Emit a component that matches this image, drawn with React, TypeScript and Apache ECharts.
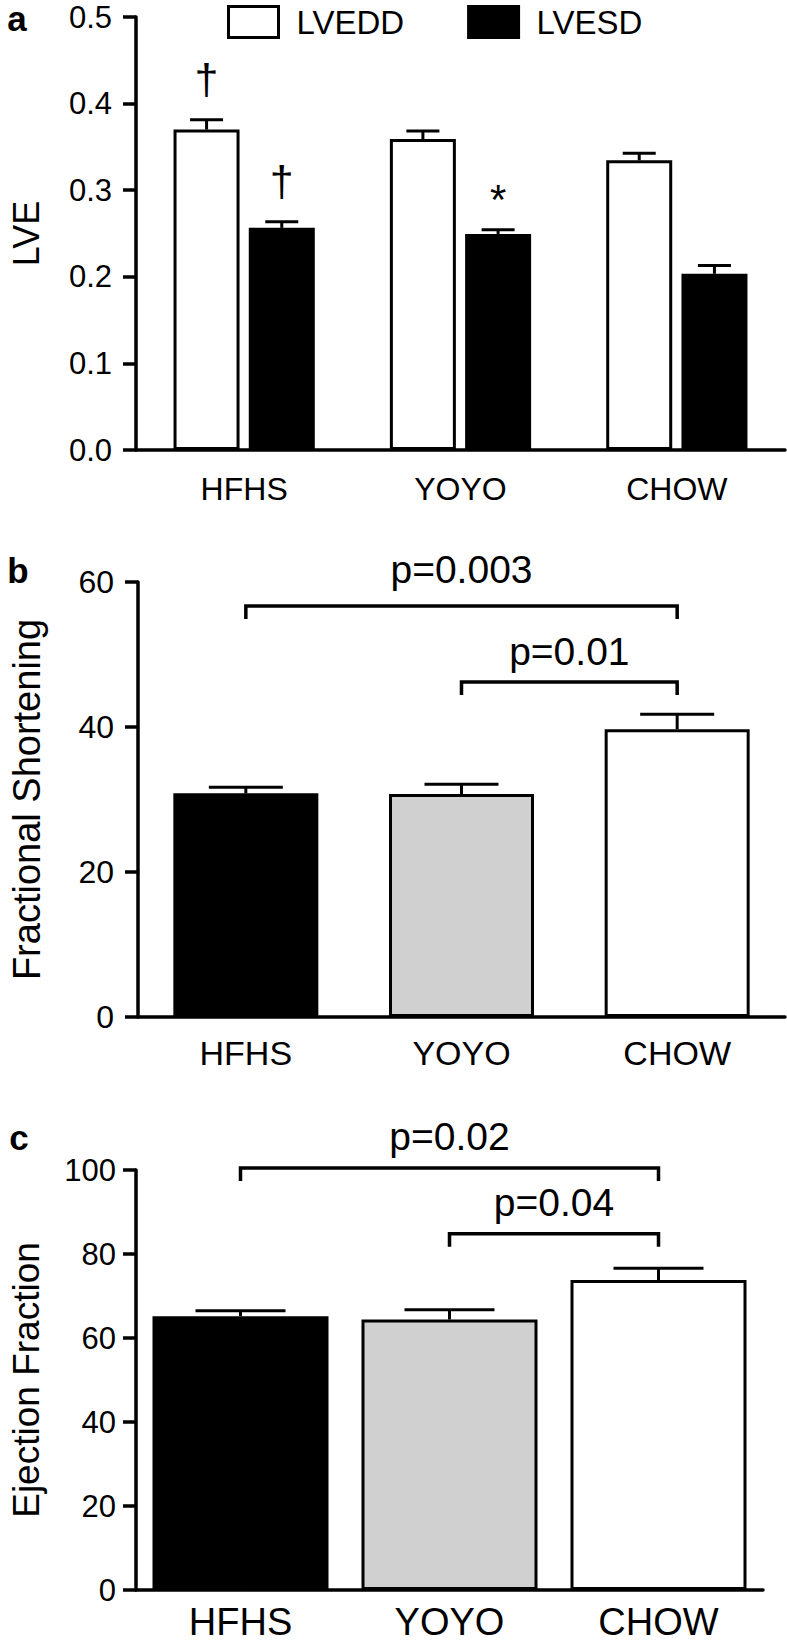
import React, { useEffect, useRef } from 'react';
import * as echarts from 'echarts';

// ---------- data ----------
const categories = ['HFHS', 'YOYO', 'CHOW'];

// panel a: left ventricular dimensions
const lveddMean = [0.370, 0.359, 0.3345];
const lveddSem = [0.0114, 0.0095, 0.0083];
const lvesdMean = [0.2565, 0.2495, 0.2035];
const lvesdSem = [0.0072, 0.0048, 0.0095];
const lveddMarks = ['\u2020', '', ''];
const lvesdMarks = ['\u2020', '*', ''];

// panel b: fractional shortening  [from, to, bracket level, label level]
const fsMean = [30.85, 30.76, 39.7];
const fsSem = [0.85, 1.35, 2.05];
const fsBrackets = [[0, 2, 56.7, 61.7], [1, 2, 46.2, 50.4]];
const fsPLabels = ['p=0.003', 'p=0.01'];

// panel c: ejection fraction  [from, to, bracket level, label level]
const efMean = [65.2, 64.4, 73.8];
const efSem = [1.3, 2.3, 2.8];
const efBrackets = [[0, 2, 100.5, 107.9], [1, 2, 84.8, 92.2]];
const efPLabels = ['p=0.02', 'p=0.04'];

const groupColors = ['#000000', '#d0d0d0', '#ffffff'];

const FONT = '"Liberation Sans", Arial, Helvetica, sans-serif';
const LW = 3.5;

function errorSeries(
  name: string,
  axis: number,
  means: number[],
  sems: number[],
  offset: number,
  capW: number,
  marks?: string[]
) {
  return {
    type: 'custom',
    name: name + ' err',
    xAxisIndex: axis,
    yAxisIndex: axis,
    z: 5,
    clip: false,
    silent: true,
    encode: { x: 0, y: 1 },
    data: categories.map((_, i) => [i, means[i], sems[i]]),
    renderItem: (params: any, api: any) => {
      const idx = api.value(0);
      const m = api.value(1);
      const s = api.value(2);
      const base = api.coord([idx, m]);
      const top = api.coord([idx, m + s]);
      const x = base[0] + offset;
      const children: any[] = [
        { type: 'line', shape: { x1: x, y1: base[1], x2: x, y2: top[1] }, style: { stroke: '#000', lineWidth: 3 } },
        { type: 'line', shape: { x1: x - capW / 2, y1: top[1], x2: x + capW / 2, y2: top[1] }, style: { stroke: '#000', lineWidth: 3 } },
      ];
      const mk = marks ? marks[params.dataIndex] : '';
      if (mk) {
        const isStar = mk === '*';
        children.push({
          type: 'text',
          x,
          y: top[1] - (isStar ? 30 : 41),
          style: {
            text: mk,
            fontSize: isStar ? 42 : 43,
            fontFamily: FONT,
            fill: '#000',
            align: 'center',
            verticalAlign: 'middle',
          },
        });
      }
      return { type: 'group', children };
    },
  };
}

function bracketSeries(axis: number, brackets: number[][], labels: string[], fontSize: number) {
  return {
    type: 'custom',
    name: 'brackets' + axis,
    xAxisIndex: axis,
    yAxisIndex: axis,
    z: 5,
    clip: false,
    silent: true,
    encode: { x: 0, y: 2 },
    data: brackets,
    renderItem: (params: any, api: any) => {
      const a = api.coord([api.value(0), api.value(2)]);
      const b = api.coord([api.value(1), api.value(2)]);
      const t = api.coord([api.value(0), api.value(3)]);
      const drop = 13;
      return {
        type: 'group',
        children: [
          {
            type: 'polyline',
            shape: { points: [[a[0], a[1] + drop], [a[0], a[1]], [b[0], b[1]], [b[0], b[1] + drop]] },
            style: { stroke: '#000', lineWidth: LW, fill: 'none' },
          },
          {
            type: 'text',
            x: (a[0] + b[0]) / 2,
            y: t[1],
            style: {
              text: labels[params.dataIndex],
              fontSize,
              fontFamily: FONT,
              fill: '#000',
              align: 'center',
              verticalAlign: 'middle',
            },
          },
        ],
      };
    },
  };
}

function xAxisCfg(gridIndex: number, fontSize: number, margin: number) {
  return {
    type: 'category',
    gridIndex,
    data: categories,
    axisLine: { lineStyle: { color: '#000', width: LW } },
    axisTick: { alignWithLabel: true, length: 14, lineStyle: { color: '#000', width: LW } },
    axisLabel: { color: '#000', fontSize, lineHeight: Math.round(fontSize * 0.85), fontFamily: FONT, margin },
    splitLine: { show: false },
  };
}

function yAxisCfg(
  gridIndex: number,
  max: number,
  interval: number,
  name: string,
  fontSize: number,
  nameSize: number,
  nameGap: number,
  margin: number,
  decimals: number
) {
  return {
    type: 'value',
    gridIndex,
    min: 0,
    max,
    interval,
    name,
    nameLocation: 'middle',
    nameRotate: 90,
    nameGap,
    nameTextStyle: { color: '#000', fontSize: nameSize, fontFamily: FONT },
    axisLine: { show: true, lineStyle: { color: '#000', width: LW } },
    axisTick: { show: true, length: 13, lineStyle: { color: '#000', width: LW } },
    axisLabel: {
      color: '#000',
      fontSize,
      lineHeight: Math.round(fontSize * 0.8),
      fontFamily: FONT,
      margin,
      formatter: (v: number) => v.toFixed(decimals),
    },
    splitLine: { show: false },
  };
}

export default function App() {
  const ref = useRef<HTMLDivElement>(null);

  useEffect(() => {
    document.body.style.margin = '0';
    if (!ref.current) return;
    const chart = echarts.init(ref.current, undefined, { renderer: 'svg' });

    const groupBars = (axis: number, means: number[], barWidth: number) => ({
      type: 'bar',
      xAxisIndex: axis,
      yAxisIndex: axis,
      barWidth,
      silent: true,
      data: means.map((v, i) => ({
        value: v,
        itemStyle: { color: groupColors[i], borderColor: '#000', borderWidth: 3 },
      })),
    });

    const panelLabel = (text: string, x: number, y: number) => ({
      type: 'text',
      x,
      y,
      style: {
        text,
        fontSize: 35,
        lineHeight: 30,
        fontWeight: 'bold',
        fontFamily: FONT,
        fill: '#000',
        align: 'center',
        verticalAlign: 'middle',
      },
    });

    const option: any = {
      animation: false,
      backgroundColor: '#ffffff',
      textStyle: { fontFamily: FONT },
      legend: {
        left: 227,
        top: 5,
        padding: 0,
        icon: 'rect',
        itemWidth: 50,
        itemHeight: 31,
        itemGap: 63,
        selectedMode: false,
        textStyle: { color: '#000', fontSize: 33, fontFamily: FONT, padding: [0, 0, 0, 13] },
        data: [
          { name: 'LVEDD', itemStyle: { color: '#fff', borderColor: '#000', borderWidth: 3 } },
          { name: 'LVESD', itemStyle: { color: '#000', borderColor: '#000', borderWidth: 3 } },
        ],
      },
      grid: [
        { left: 130, right: 2, top: 17, height: 433 },
        { left: 130, right: 2, top: 582, height: 435 },
        { left: 130, right: 24, top: 1170, height: 420 },
      ],
      xAxis: [xAxisCfg(0, 32, 25), xAxisCfg(1, 34, 21), xAxisCfg(2, 38, 16)],
      yAxis: [
        yAxisCfg(0, 0.5, 0.1, 'LVE', 31, 36, 92, 24, 1),
        yAxisCfg(1, 60, 20, 'Fractional Shortening', 32, 38, 92, 24, 0),
        yAxisCfg(2, 100, 20, 'Ejection Fraction', 31, 37, 91, 20, 0),
      ],
      graphic: [panelLabel('a', 17, 18), panelLabel('b', 18, 570), panelLabel('c', 19, 1137)],
      series: [
        {
          type: 'bar',
          name: 'LVEDD',
          xAxisIndex: 0,
          yAxisIndex: 0,
          barWidth: 66,
          barGap: '14%',
          silent: true,
          itemStyle: { color: '#fff', borderColor: '#000', borderWidth: 3 },
          data: lveddMean,
        },
        {
          type: 'bar',
          name: 'LVESD',
          xAxisIndex: 0,
          yAxisIndex: 0,
          barWidth: 66,
          barGap: '14%',
          silent: true,
          itemStyle: { color: '#000', borderColor: '#000', borderWidth: 3 },
          data: lvesdMean,
        },
        errorSeries('LVEDD', 0, lveddMean, lveddSem, -37.6, 33, lveddMarks),
        errorSeries('LVESD', 0, lvesdMean, lvesdSem, 37.6, 33, lvesdMarks),
        groupBars(1, fsMean, 145),
        errorSeries('FS', 1, fsMean, fsSem, 0, 74),
        bracketSeries(1, fsBrackets, fsPLabels, 39),
        groupBars(2, efMean, 176),
        errorSeries('EF', 2, efMean, efSem, 0, 90),
        bracketSeries(2, efBrackets, efPLabels, 39),
      ],
    };

    chart.setOption(option);
    return () => chart.dispose();
  }, []);

  return <div ref={ref} style={{ width: 787, height: 1644, background: '#fff' }} />;
}
